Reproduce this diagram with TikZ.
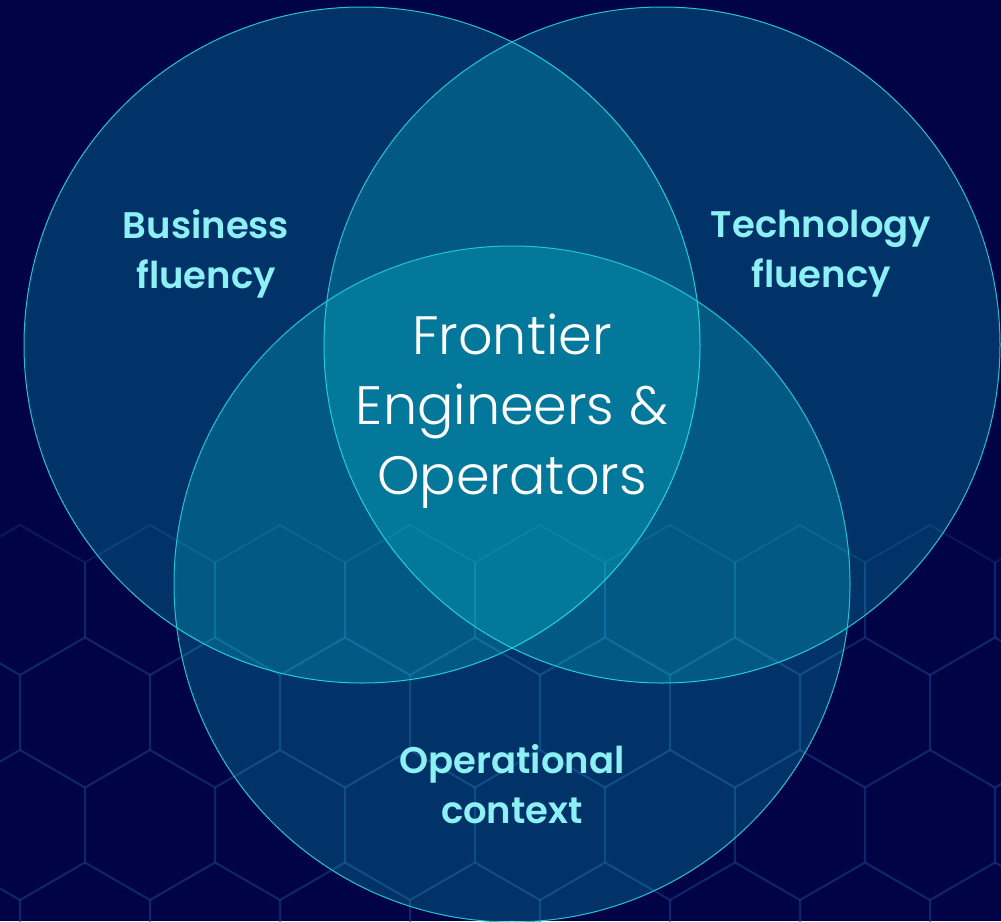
\documentclass[tikz,border=0pt]{standalone}
\usepackage{fontspec}
\setmainfont{Poppins}
\newfontfamily\poplight{Poppins Light}
\newfontfamily\popsemi{Poppins SemiBold}
\definecolor{bg}{RGB}{0,4,70}
\definecolor{ring}{RGB}{34,196,212}
\definecolor{lab}{RGB}{140,240,245}
\definecolor{meshc}{RGB}{30,70,140}
\definecolor{fillc}{RGB}{10,255,255}
\tikzset{
  venn/.style={circle, minimum size=676pt, inner sep=0pt, fill=fillc, fill opacity=0.19, draw=ring, draw opacity=1, line width=1pt},
  lbl/.style={font=\popsemi\fontsize{37}{50}\selectfont, text=lab, align=center, text opacity=1},
  centre/.style={font=\poplight\fontsize{54}{70}\selectfont, text=white, align=center, text opacity=1},
  hexline/.style={draw=meshc, line width=2pt, opacity=0.3}
}
\begin{document}
\begin{tikzpicture}[x=1pt,y=-1pt]
\fill[bg] (0,0) rectangle (1001,921);
\useasboundingbox (0,0) rectangle (1001,921);
\begin{scope}
\clip (0,0) rectangle (1001,921);
\foreach \r in {0,...,4}{
  \foreach \c in {-1,...,8}{
    \pgfmathsetmacro\cx{\c*130 + mod(\r,2)*65 + 20}
    \pgfmathsetmacro\cy{600+\r*112.5}
    \draw[hexline] (\cx,\cy) ++(90:75) -- ++(-30:75) -- ++(-90:75) -- ++(-150:75) -- ++(150:75) -- ++(90:75) -- cycle;
  }
}
\end{scope}
\node[venn] (L) at (362,345) {};
\node[venn] (R) at (662,345) {};
\node[venn] (B) at (512,584) {};
\node[lbl] (biz) at (206,254) {Business\\fluency};
\node[lbl] (tech) at (821,254) {Technology\\fluency};
\node[lbl] (ops) at (512,784) {Operational\\context};
\node[centre] (fe) at (512,411) {Frontier\\Engineers \&\\Operators};
\end{tikzpicture}
\end{document}
